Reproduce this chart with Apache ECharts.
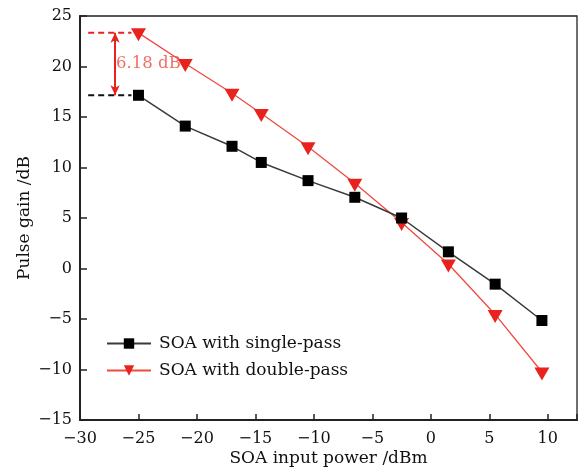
<!DOCTYPE html>
<html>
<head>
<meta charset="utf-8">
<script src="https://cdn.jsdelivr.net/npm/echarts@6/dist/echarts.min.js"></script>
<style>
  html, body { margin: 0; padding: 0; background: #fff; }
  #chart { width: 582px; height: 470px; }
</style>
</head>
<body>
<div id="chart"></div>
<script>
// SOA input power (dBm) for each measurement
const powerIn = [-25, -21, -17, -14.5, -10.5, -6.5, -2.5, 1.5, 5.5, 9.5];
// Pulse gain (dB), single-pass configuration
const gainSingle = [17.15, 14.1, 12.1, 10.5, 8.7, 7.05, 5.0, 1.65, -1.55, -5.15];
// Pulse gain (dB), double-pass configuration
const gainDouble = [23.33, 20.3, 17.35, 15.35, 12.05, 8.45, 4.55, 0.45, -4.55, -10.25];
// Axis ticks
const xTicks = [-30, -25, -20, -15, -10, -5, 0, 5, 10];
const yTicks = [-15, -10, -5, 0, 5, 10, 15, 20, 25];
// Gain-difference annotation: arrow position and dashed guide span
const arrowX = -27;
const guideFrom = -29.3;
const guideTo = -25.6;

const seriesNames = ['SOA with single-pass', 'SOA with double-pass'];
const redLine = '#ef4a40';
const redMark = '#e8231e';
const ink = '#111';
const serif = '"DejaVu Serif", "Liberation Serif", serif';

const fmtNum = v => (v < 0 ? '\u2212' + Math.abs(v) : String(v));
const zip = (xs, ys) => xs.map((x, i) => [x, ys[i]]);
const gapText = (gainDouble[0] - gainSingle[0]).toFixed(2) + ' dB';

const chart = echarts.init(document.getElementById('chart'), null, { renderer: 'canvas' });
chart.setOption({
  animation: false,
  backgroundColor: '#fff',
  textStyle: { fontFamily: serif },
  grid: {
    left: 80, right: 5, top: 16, bottom: 50,
    outerBoundsMode: 'none',
    show: true, borderColor: '#222', borderWidth: 1.3
  },
  legend: {
    data: seriesNames,
    orient: 'vertical',
    left: 101, top: 330,
    itemWidth: 44, itemHeight: 13, itemGap: 10,
    textStyle: { fontFamily: serif, fontSize: 17, lineHeight: 17, color: ink, padding: [0, 0, 0, 3] }
  },
  xAxis: {
    type: 'value', min: -30, max: 12.5, interval: 5,
    name: 'SOA input power /dBm', nameLocation: 'middle', nameGap: 30,
    nameMoveOverlap: false,
    nameTextStyle: { fontFamily: serif, fontSize: 17, color: ink },
    axisLine: { onZero: false, lineStyle: { color: '#222', width: 2 } },
    axisTick: { inside: true, length: 6, lineStyle: { color: '#222', width: 1.5 } },
    axisLabel: {
      fontFamily: serif, fontSize: 16, color: ink, margin: 11,
      formatter: v => (xTicks.includes(v) ? fmtNum(v) : '')
    },
    splitLine: { show: false }
  },
  yAxis: {
    type: 'value', min: -15, max: 25, interval: 5,
    name: 'Pulse gain /dB', nameLocation: 'middle', nameGap: 47,
    nameMoveOverlap: false,
    nameTextStyle: { fontFamily: serif, fontSize: 17, color: ink },
    axisLine: { show: true, onZero: false, lineStyle: { color: '#222', width: 2 } },
    axisTick: { show: true, inside: true, length: 7, lineStyle: { color: '#222', width: 1.5 } },
    axisLabel: {
      fontFamily: serif, fontSize: 16, color: ink, margin: 8,
      formatter: v => (yTicks.includes(v) ? fmtNum(v) : '')
    },
    splitLine: { show: false }
  },
  series: [
    {
      name: seriesNames[0], type: 'line', z: 3,
      data: zip(powerIn, gainSingle),
      symbol: 'rect', symbolSize: 11,
      itemStyle: { color: '#000' },
      lineStyle: { color: '#3a3a3a', width: 1.5 }
    },
    {
      name: seriesNames[1], type: 'line', z: 2,
      data: zip(powerIn, gainDouble),
      symbol: 'triangle', symbolRotate: 180, symbolSize: [15, 13], symbolOffset: [0, 2],
      itemStyle: { color: redMark },
      lineStyle: { color: redLine, width: 1.3 },
      markLine: {
        silent: true,
        symbol: ['arrow', 'arrow'], symbolSize: [7, 10],
        label: { show: false },
        lineStyle: { color: redMark, width: 2, type: 'solid' },
        data: [[
          { coord: [arrowX, gainSingle[0]] },
          { coord: [arrowX, gainDouble[0]] }
        ]]
      }
    },
    {
      // dashed guide at the single-pass starting gain
      name: 'guideSingle', type: 'line', silent: true, z: 1,
      data: [[guideFrom, gainSingle[0]], [guideTo, gainSingle[0]]],
      symbol: 'none',
      lineStyle: { color: '#111', width: 2, type: [6, 4] }
    },
    {
      // dashed guide at the double-pass starting gain
      name: 'guideDouble', type: 'line', silent: true, z: 1,
      data: [[guideFrom, gainDouble[0]], [guideTo, gainDouble[0]]],
      symbol: 'none',
      lineStyle: { color: redMark, width: 2, type: [6, 4] }
    },
    {
      // gain difference text beside the arrow
      name: 'gapLabel', type: 'scatter', silent: true, z: 4,
      data: [[arrowX, (gainDouble[0] + gainSingle[0]) / 2]],
      symbolSize: 0,
      label: {
        show: true, position: 'right', distance: 1,
        formatter: gapText,
        fontFamily: serif, fontSize: 16.5, color: '#ee4a3e'
      }
    }
  ]
});
</script>
</body>
</html>
